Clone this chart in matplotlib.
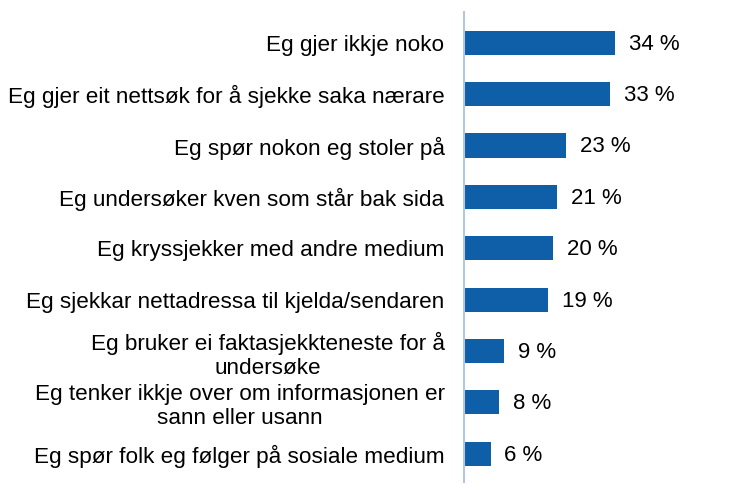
import matplotlib
matplotlib.use("Agg")
import matplotlib.pyplot as plt

categories = [
    "Eg gjer ikkje noko",
    "Eg gjer eit nettsøk for å sjekke saka nærare",
    "Eg spør nokon eg stoler på",
    "Eg undersøker kven som står bak sida",
    "Eg kryssjekker med andre medium",
    "Eg sjekkar nettadressa til kjelda/sendaren",
    "Eg bruker ei faktasjekkteneste for å\nundersøke",
    "Eg tenker ikkje over om informasjonen er\nsann eller usann",
    "Eg spør folk eg følger på sosiale medium",
]
values = [34, 33, 23, 21, 20, 19, 9, 8, 6]
value_labels = [f"{v} %" for v in values]

plt.rcParams['font.family'] = ['Liberation Sans', 'DejaVu Sans']

fig = plt.figure(figsize=(7.52, 4.90), dpi=100)
ax = fig.add_axes([464/752, 8/490, 1 - 464/752, 470/490])

y = list(range(len(categories)))
bars = ax.barh(y, values, height=0.47, color="#0f5ea8")
ax.set_ylim(len(categories) - 0.45, -0.6)
ax.set_xlim(0, 65)

ax.set_yticks(y)
ax.set_yticklabels(categories, fontsize=16.2, multialignment="center", linespacing=1.2)
ax.tick_params(axis="y", length=0, pad=14)
ax.set_xticks([])

for s in ["top", "right", "bottom"]:
    ax.spines[s].set_visible(False)
ax.spines["left"].set_color("#b4c7e0")
ax.spines["left"].set_linewidth(1.5)

for bar, lab in zip(bars, value_labels):
    ax.annotate(lab, (bar.get_width(), bar.get_y() + bar.get_height() / 2),
                xytext=(10, -1), textcoords="offset points", va="center", ha="left",
                fontsize=16)

fig.savefig("out.png", dpi=100)
